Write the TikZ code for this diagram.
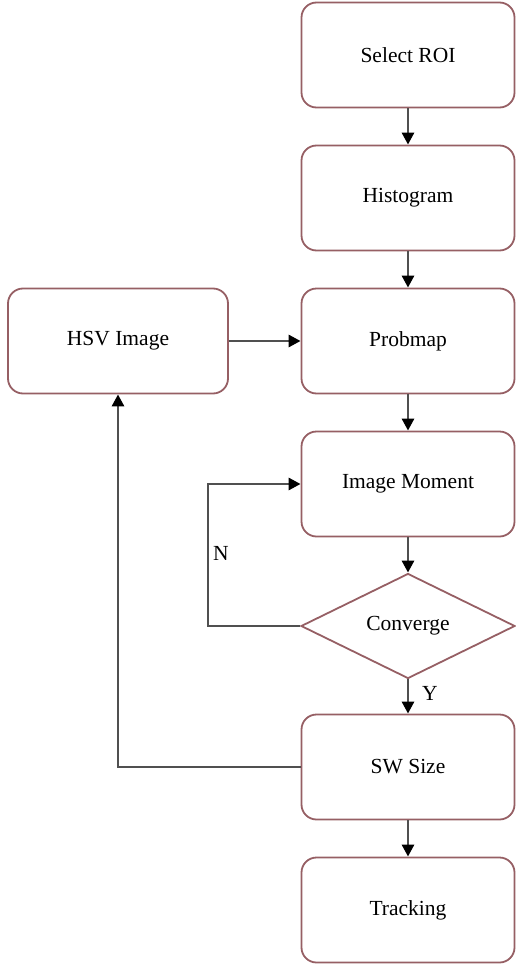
\documentclass[tikz,border=0pt]{standalone}
\usepackage{fontspec}
\setmainfont{Liberation Serif}
\usetikzlibrary{arrows.meta,shapes.geometric}
\definecolor{boxline}{RGB}{150,95,100}
\definecolor{conn}{RGB}{80,80,80}
\tikzset{
  stepbox/.style={draw=boxline, line width=1.8pt, rounded corners=15pt, fill=white,
    minimum width=213pt, minimum height=105pt, inner sep=0pt, font=\fontsize{21.5pt}{24pt}\selectfont},
  decbox/.style={draw=boxline, line width=1.8pt, diamond, aspect=2.05, fill=white,
    minimum width=214pt, minimum height=105pt, inner sep=0pt, font=\fontsize{21.5pt}{24pt}\selectfont},
  conn/.style={draw=conn, line width=2.8pt, -{Triangle[length=12pt,width=12pt,color=black]}},
  lbl/.style={font=\fontsize{21.5pt}{24pt}\selectfont, inner sep=0pt}
}
\begin{document}
\begin{tikzpicture}[x=1pt,y=-1pt]
\useasboundingbox (0,0) rectangle (515,966);
\node[stepbox] (roi) at (408,55) {Select ROI};
\node[stepbox] (hist) at (408,198) {Histogram};
\node[stepbox] (prob) at (408,341) {Probmap};
\node[stepbox, minimum width=220pt] (hsv) at (118,341) {HSV Image};
\node[stepbox] (mom) at (408,484) {Image Moment};
\node[decbox] (conv) at (408,626) {Converge};
\node[stepbox] (sw) at (408,767) {SW Size};
\node[stepbox] (trk) at (408,910) {Tracking};
\coordinate (nl) at (208,626);
\coordinate (nt) at (208,484);
\coordinate (sl) at (118,767);
\draw[conn] (roi) -- (hist);
\draw[conn] (hist) -- (prob);
\draw[conn] (hsv) -- (prob);
\draw[conn] (prob) -- (mom);
\draw[conn] (mom) -- (conv);
\draw[conn] (conv) -- (sw);
\draw[conn] (sw) -- (trk);
\draw[conn] (conv.west) -- (nl) -- (nt) -- (mom.west);
\draw[conn] (sw.west) -- (sl) -- (hsv.south);
\node[lbl] (n) at (221,553) {N};
\node[lbl] (y) at (430,693) {Y};
\end{tikzpicture}
\end{document}
